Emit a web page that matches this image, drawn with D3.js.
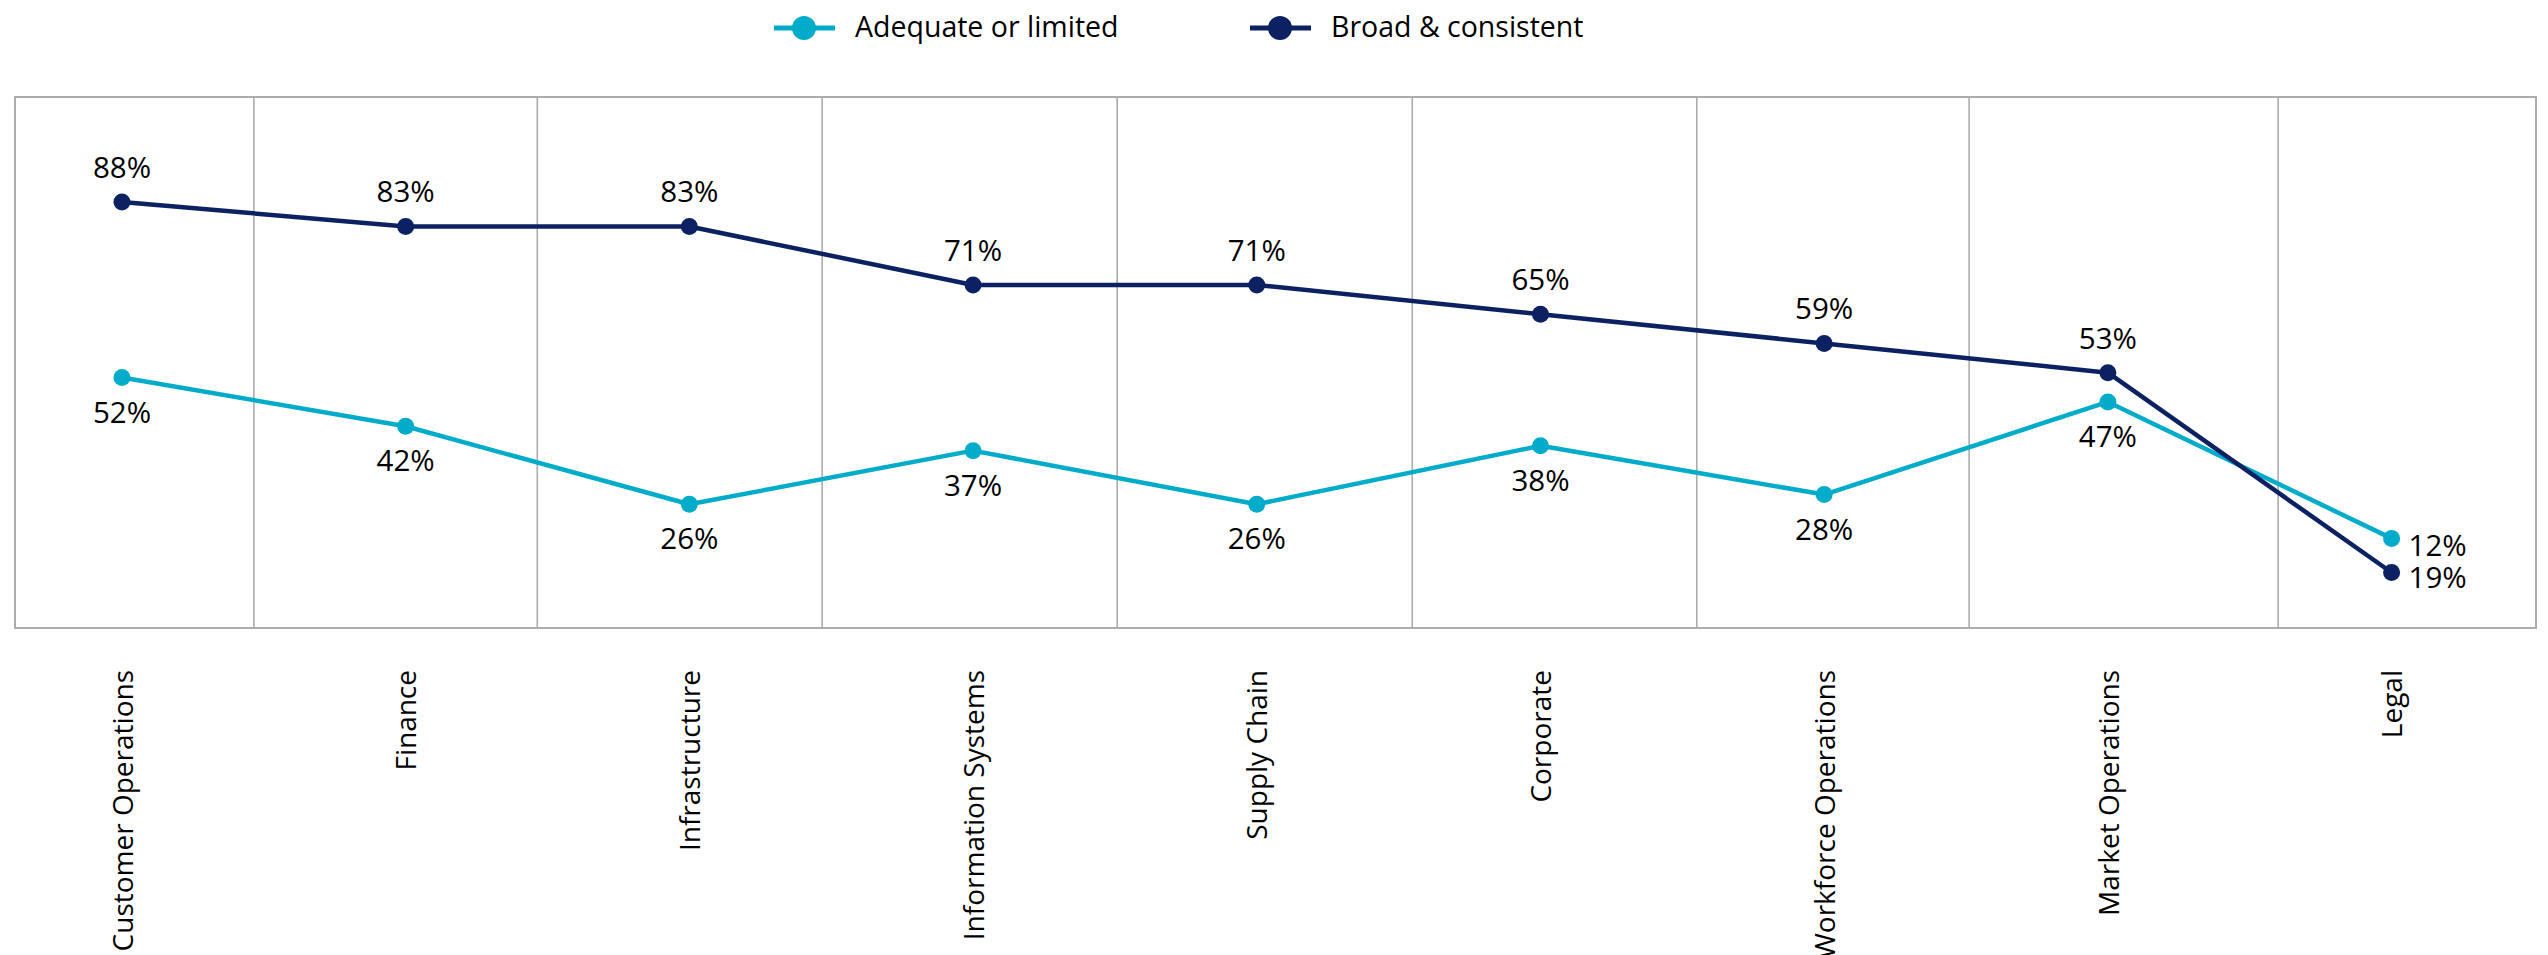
<!DOCTYPE html>
<html>
<head>
<meta charset="utf-8">
<script src="https://cdn.jsdelivr.net/npm/d3@7"></script>
<style>
  html, body { margin: 0; padding: 0; background: #ffffff; overflow: hidden; }
  svg { display: block; font-family: "Open Sans", "Noto Sans", sans-serif; }
</style>
</head>
<body>
<svg id="chart" width="2548" height="955"></svg>
<script>
// ---- data ----
const categories = [
  "Customer Operations", "Finance", "Infrastructure", "Information Systems",
  "Supply Chain", "Corporate", "Workforce Operations", "Market Operations", "Legal"
];
const seriesNames = ["Adequate or limited", "Broad & consistent"];
const adequateOrLimited = [52, 42, 26, 37, 26, 38, 28, 47, 19];
const broadAndConsistent = [88, 83, 83, 71, 71, 65, 59, 53, 12];

// ---- layout ----
const W = 2548, H = 955;
const frame = { left: 15, right: 2536, top: 97, bottom: 628 };
// category-index positions of the vertical separators
const separatorPositions = [0.465, 1.464, 2.468, 3.508, 4.548, 5.551, 6.511, 7.6];
const colors = { adequate: "#00acc9", broad: "#0c2162", grid: "#acacac", text: "#000000" };

const svg = d3.select("#chart");
svg.append("rect").attr("width", W).attr("height", H).attr("fill", "#ffffff");

// index -> x (categories sit at whole-number positions)
const x = d3.scaleLinear().domain([-0.377, 8.509]).range([frame.left, frame.right]);
const y = d3.scaleLinear().domain([0, 109.5]).range([631, 97.3]);

// frame and separators
const g = svg.append("g");
g.append("rect")
  .attr("x", frame.left).attr("y", frame.top)
  .attr("width", frame.right - frame.left).attr("height", frame.bottom - frame.top)
  .attr("fill", "none").attr("stroke", colors.grid).attr("stroke-width", 2);
g.selectAll("line.sep").data(separatorPositions).join("line")
  .attr("class", "sep")
  .attr("x1", d => x(d)).attr("x2", d => x(d))
  .attr("y1", frame.top).attr("y2", frame.bottom)
  .attr("stroke", colors.grid).attr("stroke-width", 1.6);

// category labels, rotated, reading upward
svg.append("g").selectAll("text").data(categories).join("text")
  .attr("transform", (d, i) => `translate(${x(i)},670) rotate(-90)`)
  .attr("text-anchor", "end")
  .attr("dy", "0.38em")
  .attr("font-size", 28)
  .attr("fill", colors.text)
  .text(d => d);

const series = [
  { name: seriesNames[0], values: adequateOrLimited, color: colors.adequate, labelPos: "below" },
  { name: seriesNames[1], values: broadAndConsistent, color: colors.broad, labelPos: "above" }
];

const line = d3.line().x((d, i) => x(i)).y(d => y(d));
const last = categories.length - 1;

series.forEach(s => {
  const sg = svg.append("g");
  sg.append("path").datum(s.values)
    .attr("d", line)
    .attr("fill", "none")
    .attr("stroke", s.color)
    .attr("stroke-width", 4.5)
    .attr("stroke-linejoin", "round");
  sg.selectAll("circle").data(s.values).join("circle")
    .attr("cx", (d, i) => x(i)).attr("cy", d => y(d))
    .attr("r", 8.5).attr("fill", s.color);
  sg.selectAll("text").data(s.values).join("text")
    .attr("x", (d, i) => i === last ? x(i) + 17 : x(i))
    .attr("y", (d, i) => {
      if (s.labelPos === "above") return y(d) - (i === last ? 17 : 24);
      return y(d) + (i === last ? 50 : 45);
    })
    .attr("text-anchor", (d, i) => i === last ? "start" : "middle")
    .attr("font-size", 29.5)
    .attr("fill", colors.text)
    .text(d => d3.format(".0f")(d) + "%");
});

// legend
const legendX = [804, 1280];
const legend = svg.append("g");
series.forEach((s, k) => {
  const lg = legend.append("g").attr("transform", `translate(${legendX[k]},28)`);
  lg.append("line").attr("x1", -30).attr("x2", 31).attr("y1", 0).attr("y2", 0)
    .attr("stroke", s.color).attr("stroke-width", 5);
  lg.append("circle").attr("r", 12).attr("fill", s.color);
  lg.append("text").attr("x", 51).attr("y", 9)
    .attr("font-size", 28.5).attr("fill", colors.text).text(s.name);
});
</script>
</body>
</html>
